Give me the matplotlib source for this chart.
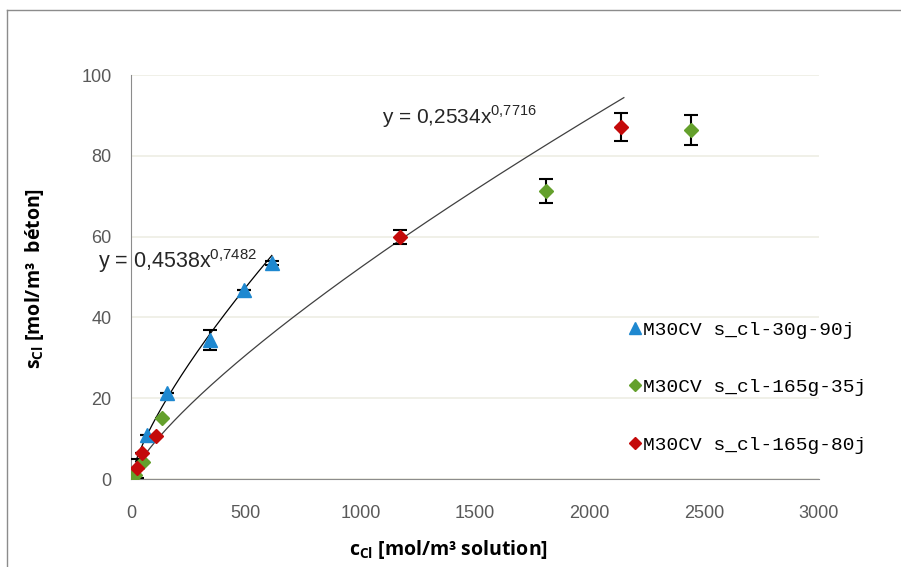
import numpy as np
import matplotlib.pyplot as plt
from matplotlib.lines import Line2D

plt.rcParams['font.family'] = 'Liberation Sans'
plt.rcParams['mathtext.fontset'] = 'custom'
plt.rcParams['mathtext.rm'] = 'Liberation Sans'
plt.rcParams['mathtext.bf'] = 'Open Sans:bold'

# Series M30CV s_cl-30g-90j (blue triangles)
x_30g = [69, 159, 346, 491, 614]
y_30g = [10.9, 21.2, 34.4, 46.8, 53.4]
e_30g = [0.0, 0.0, 2.5, 0.0, 0.5]

# Series M30CV s_cl-165g-35j (green diamonds)
x_35j = [3, 18, 54, 134, 1811, 2444]
y_35j = [0.6, 1.0, 4.3, 15.0, 71.3, 86.4]
e_35j = [0.0, 0.0, 0.0, 0.0, 3.0, 3.8]

# Series M30CV s_cl-165g-80j (red diamonds)
x_80j = [25, 47, 110, 1175, 2137]
y_80j = [2.6, 6.4, 10.7, 59.9, 87.2]
e_80j = [2.4, 0.0, 0.0, 1.8, 3.5]

labels = ['M30CV s_cl-30g-90j', 'M30CV s_cl-165g-35j', 'M30CV s_cl-165g-80j']

# power trendlines y = a * x^b  (a, b, x start, x end)
fit_30g = (0.4538, 0.7482, 20, 614)
fit_165g = (0.2534, 0.7716, 18, 2149)

fig = plt.figure(figsize=(9.01, 5.67), dpi=100)
ax = fig.add_axes([0.1454, 0.1552, 0.909 - 0.1454, 0.8677 - 0.1552])

# trendlines
for (a, b, x0, x1), col in [(fit_30g, '#000000'), (fit_165g, '#404040')]:
    xs = np.linspace(x0, x1, 200)
    ax.plot(xs, a * xs ** b, color=col, lw=0.9, zorder=2)

blue = '#1E88D0'
green = '#64A02C'
red = '#C40A0A'

ax.errorbar(x_30g, y_30g, yerr=e_30g, fmt='none', ecolor='black', elinewidth=1.5, capsize=5, capthick=1.5, zorder=3)
ax.errorbar(x_35j, y_35j, yerr=e_35j, fmt='none', ecolor='black', elinewidth=1.5, capsize=5, capthick=1.5, zorder=3)
ax.errorbar(x_80j, y_80j, yerr=e_80j, fmt='none', ecolor='black', elinewidth=1.5, capsize=5, capthick=1.5, zorder=3)

ax.plot(x_30g, y_30g, '^', color=blue, ms=10, mec=blue, ls='none', label=labels[0], zorder=4)
ax.plot(x_35j, y_35j, 'D', color=green, ms=7.5, mec=green, ls='none', label=labels[1], zorder=4)
ax.plot(x_80j, y_80j, 'D', color=red, ms=7.5, mec=red, ls='none', label=labels[2], zorder=5)

ax.set_xlim(0, 3000)
ax.set_ylim(0, 100)
ax.set_xticks(np.arange(0, 3001, 500))
ax.set_yticks(np.arange(0, 101, 20))
ax.tick_params(length=0, labelsize=13, colors='#595959')
ax.tick_params(axis='x', pad=19)
ax.tick_params(axis='y', pad=14)
ax.grid(axis='y', color='#EEEEE4', lw=1.2)
ax.set_axisbelow(True)
for s in ['top', 'right']:
    ax.spines[s].set_visible(False)
for s in ['left', 'bottom']:
    ax.spines[s].set_color('#8C8C8C')

ax.set_xlabel(r'$\mathbf{c_{Cl}}$ [mol/m³ solution]', fontsize=14, fontweight='bold',
              family='Open Sans')
ax.set_ylabel(r'$\mathbf{s_{Cl}}$ [mol/m³  béton]', fontsize=14, fontweight='bold',
              family='Open Sans')
ax.xaxis.set_label_coords(0.461, -0.146)
ax.yaxis.set_label_coords(-0.124, 0.497)

ax.text(-145, 54, r'y = 0,4538x$^{0{,}7482}$', fontsize=15.5, color='#262626', va='center', ha='left')
ax.text(1096, 89.6, r'y = 0,2534x$^{0{,}7716}$', fontsize=15, color='#262626', va='center', ha='left')

ax.legend(loc='upper left', bbox_to_anchor=(0.71, 0.415), frameon=False,
          prop={'family': 'Liberation Mono', 'size': 14}, handlelength=0.6,
          handletextpad=0.1, labelspacing=2.05, markerscale=0.8, borderpad=0)

# outer chart border
fig.add_artist(Line2D([7 / 901, 7 / 901], [0, 1 - 10 / 567], color='#8C8C8C', lw=1))
fig.add_artist(Line2D([7 / 901, 1], [1 - 10 / 567, 1 - 10 / 567], color='#8C8C8C', lw=1))

fig.savefig('out.png', dpi=100)
